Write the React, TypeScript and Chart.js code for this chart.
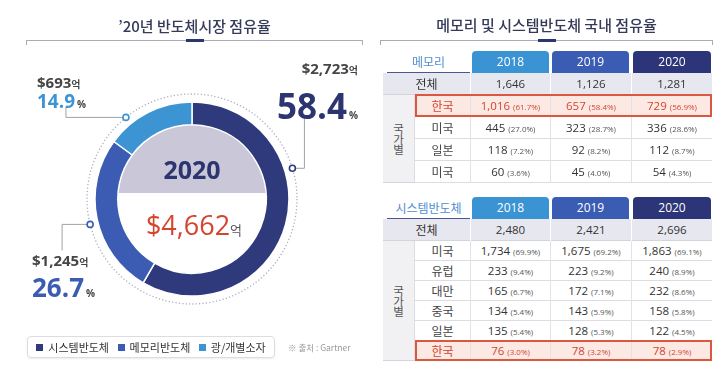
import React, { useEffect, useRef } from "react";
import { Chart, registerables } from "chart.js";

Chart.register(...registerables);

// ---------- data ----------
const segments = ["시스템반도체", "메모리반도체", "광/개별소자"];
const shares = [58.4, 26.7, 14.9];
const amounts = [2723, 1245, 693];
const totalAmount = 4662;
const chartYear = "2020";

const years = ["2018", "2019", "2020"];

const memTotals = [1646, 1126, 1281];
const memCountries = ["한국", "미국", "일본", "미국"];
const memValues = [
  [1016, 657, 729],
  [445, 323, 336],
  [118, 92, 112],
  [60, 45, 54],
];
const memPcts = [
  [61.7, 58.4, 56.9],
  [27.0, 28.7, 28.6],
  [7.2, 8.2, 8.7],
  [3.6, 4.0, 4.3],
];

const sysTotals = [2480, 2421, 2696];
const sysCountries = ["미국", "유럽", "대만", "중국", "일본", "한국"];
const sysValues = [
  [1734, 1675, 1863],
  [233, 223, 240],
  [165, 172, 232],
  [134, 143, 158],
  [135, 128, 122],
  [76, 78, 78],
];
const sysPcts = [
  [69.9, 69.2, 69.1],
  [9.4, 9.2, 8.9],
  [6.7, 7.1, 8.6],
  [5.4, 5.9, 5.8],
  [5.4, 5.3, 4.5],
  [3.0, 3.2, 2.9],
];

// ---------- styles ----------
const segColors = ["#2e3a7b", "#3b5cb2", "#3c94d3"];
const yearColors = ["#3a94d4", "#3a5cb2", "#2c3577"];
const NAVY = "#2d3570";
const RED = "#d4452f";
const KR = '"Noto Sans CJK KR", "Noto Sans", sans-serif';
const NUM = '"Open Sans", "Noto Sans", sans-serif';

const calloutStyle = [
  { angle: 73, path: [[12, 0], [12, -50]] },
  { angle: 256, path: [[-28, 0], [-28, 26]] },
  { angle: 321, path: [[-60, 0], [-60, -10]] },
];

const fmt = (v: number) => v.toLocaleString("en-US");

const decorPlugin = {
  id: "decor",
  beforeDatasetsDraw(chart: any) {
    const a = chart.getDatasetMeta(0).data[0];
    if (!a) return;
    const { x, y, innerRadius, outerRadius } = a;
    const ctx = chart.ctx;
    ctx.save();
    ctx.beginPath();
    ctx.setLineDash([1.2, 2.2]);
    ctx.lineWidth = 1.3;
    ctx.strokeStyle = "#a9adbd";
    ctx.arc(x, y, outerRadius + 8, 0, Math.PI * 2);
    ctx.stroke();
    ctx.setLineDash([]);
    ctx.beginPath();
    ctx.arc(x, y, innerRadius, 0, Math.PI * 2);
    ctx.clip();
    ctx.fillStyle = "#c9c7d8";
    ctx.fillRect(x - innerRadius, y - innerRadius, innerRadius * 2, innerRadius - 6);
    ctx.restore();
  },
  afterDatasetsDraw(chart: any) {
    const a = chart.getDatasetMeta(0).data[0];
    if (!a) return;
    const { x, y, outerRadius } = a;
    const ctx = chart.ctx;
    const r = outerRadius + 8;
    ctx.save();
    calloutStyle.forEach((c, i) => {
      const t = (c.angle * Math.PI) / 180;
      const px = x + r * Math.sin(t);
      const py = y - r * Math.cos(t);
      ctx.beginPath();
      ctx.strokeStyle = "#a0a0a8";
      ctx.lineWidth = 1;
      ctx.moveTo(px, py);
      c.path.forEach(([dx, dy]) => ctx.lineTo(px + dx, py + dy));
      ctx.stroke();
      ctx.beginPath();
      ctx.arc(px, py, 3, 0, Math.PI * 2);
      ctx.fillStyle = "#fff";
      ctx.fill();
      ctx.lineWidth = 1.6;
      ctx.strokeStyle = segColors[i];
      ctx.stroke();
    });
    ctx.restore();
  },
};

const abs = (s: React.CSSProperties): React.CSSProperties => ({
  position: "absolute",
  whiteSpace: "nowrap",
  ...s,
});

function TitleRule({ left, width }: { left: number; width: number }) {
  return (
    <>
      <div style={abs({ left, top: 40, width, height: 5, borderTop: "1px solid #a9abb6", borderLeft: "1px solid #a9abb6", borderRight: "1px solid #a9abb6", boxSizing: "border-box" })} />
      <div style={abs({ left: left + width / 2 - 9, top: 39, width: 18, height: 3, background: NAVY })} />
    </>
  );
}

function DataTable(props: {
  top: number;
  title: string;
  totals: number[];
  countries: string[];
  values: number[][];
  pcts: number[][];
  rowH: number;
}) {
  const { top, title, totals, countries, values, pcts, rowH } = props;
  const L = 383, C1 = 415, C2 = 470, R = 712;
  const colX = [470, 550, 631];
  const colW = [80, 81, 81];
  const hdrX = [472, 552, 633];
  const hdrW = [77, 77, 78];
  const headH = 22;
  const totH = 22;
  const rowsTop = top + headH + totH;
  const bodyH = rowH * countries.length;
  const els: React.ReactNode[] = [];

  els.push(
    <div key="ttl" style={abs({ left: L + 4, top, width: C2 - L - 4, height: headH, lineHeight: headH + "px", textAlign: "center", color: "#4f8ed0", fontSize: 12, fontFamily: KR, borderBottom: "1.5px solid #4d5690", boxSizing: "border-box" })}>{title}</div>
  );
  years.forEach((yr, j) => {
    els.push(
      <div key={"h" + j} style={abs({ left: hdrX[j], top, width: hdrW[j], height: headH, lineHeight: headH + "px", textAlign: "center", color: "#fff", background: yearColors[j], fontSize: 12, fontFamily: NUM, borderRadius: "4px 4px 0 0" })}>{yr}</div>
    );
  });
  els.push(
    <div key="totbg" style={abs({ left: L, top: top + headH, width: R - L, height: totH, background: "#e7e7f0", borderBottom: "1px solid #d4d4dc", boxSizing: "border-box" })} />
  );
  els.push(
    <div key="totl" style={abs({ left: L, top: top + headH, width: C2 - L, height: totH, lineHeight: totH + "px", textAlign: "center", fontSize: 12, color: "#333", fontFamily: KR })}>전체</div>
  );
  totals.forEach((v, j) => {
    els.push(
      <div key={"t" + j} style={abs({ left: colX[j], top: top + headH, width: colW[j], height: totH, lineHeight: totH + "px", textAlign: "center", fontSize: 11.5, color: "#333", fontFamily: NUM, borderLeft: "1px solid #fff", boxSizing: "border-box" })}>{fmt(v)}</div>
    );
  });
  els.push(
    <div key="grp" style={abs({ left: L, top: rowsTop, width: C1 - L, height: bodyH, background: "#f1f1f4", borderRight: "1px solid #dcdce2", borderBottom: "1px solid #d4d4dc", boxSizing: "border-box", display: "flex", alignItems: "center", justifyContent: "center" })}>
      <span style={{ writingMode: "vertical-rl", textOrientation: "upright", fontSize: 11.5, lineHeight: "12px", color: "#555", fontFamily: KR, letterSpacing: -1 }}>국가별</span>
    </div>
  );
  countries.forEach((c, i) => {
    const y = rowsTop + i * rowH;
    const hi = c === "한국";
    const col = hi ? RED : "#333";
    els.push(
      <div key={"rb" + i} style={abs({ left: C1, top: y, width: R - C1, height: rowH, background: hi ? "#fce9e3" : "#fff", borderBottom: "1px solid #dcdce2", boxSizing: "border-box" })} />
    );
    els.push(
      <div key={"rl" + i} style={abs({ left: C1, top: y, width: C2 - C1, height: rowH, lineHeight: rowH + "px", textAlign: "center", fontSize: 12, color: hi ? RED : "#444", fontFamily: KR })}>{c}</div>
    );
    values[i].forEach((v, j) => {
      els.push(
        <div key={"c" + i + "_" + j} style={abs({ left: colX[j], top: y, width: colW[j], height: rowH, lineHeight: rowH + "px", textAlign: "center", fontSize: 11.5, color: col, fontFamily: NUM, borderLeft: "1px solid #e2e2e8", boxSizing: "border-box" })}>
          {fmt(v)} <span style={{ fontSize: 8, color: hi ? RED : "#555" }}>({pcts[i][j].toFixed(1)}%)</span>
        </div>
      );
    });
    if (hi) {
      els.push(
        <div key={"hi" + i} style={abs({ left: C1, top: y - 1, width: R - C1, height: rowH + 1, border: "2px solid #d9583f", boxSizing: "border-box" })} />
      );
    }
  });
  return <>{els}</>;
}

export default function App() {
  const ref = useRef<HTMLCanvasElement>(null);
  useEffect(() => {
    if (!ref.current) return;
    const chart = new Chart(ref.current, {
      type: "doughnut",
      data: {
        labels: segments,
        datasets: [
          {
            data: shares,
            backgroundColor: segColors,
            borderColor: "#ffffff",
            borderWidth: 1.5,
          },
        ],
      },
      options: {
        responsive: false,
        animation: false,
        radius: 97,
        cutout: "76.5%",
        layout: { padding: { left: 14, top: 29, right: 0, bottom: 0 } },
        plugins: { legend: { display: false }, tooltip: { enabled: false } },
      } as any,
      plugins: [decorPlugin],
    });
    return () => chart.destroy();
  }, []);

  const labelPos = [
    { align: "right", x: 358, amtY: 68, pctY: 105, pctSize: 35, numColor: NAVY },
    { align: "left", x: 32, amtY: 260, pctY: 287, pctSize: 26, numColor: segColors[1] },
    { align: "left", x: 37, amtY: 82, pctY: 101, pctSize: 19, numColor: segColors[2] },
  ];

  return (
    <div style={abs({ left: 0, top: 0, width: 719, height: 369, overflow: "hidden", background: "#fff", fontFamily: KR })}>
      <canvas ref={ref} width={370} height={369} style={abs({ left: 0, top: 0, width: 370, height: 369 })} />

      <div style={abs({ left: 26, top: 16, width: 337, textAlign: "center", fontSize: 15, lineHeight: "20px", fontWeight: 500, color: "#353a58", fontFamily: KR })}>’20년 반도체시장 점유율</div>
      <TitleRule left={26} width={337} />
      <div style={abs({ left: 380, top: 15, width: 333, textAlign: "center", fontSize: 15, lineHeight: "20px", fontWeight: 500, color: "#353a58", fontFamily: KR })}>메모리 및 시스템반도체 국내 점유율</div>
      <TitleRule left={380} width={333} />

      <div style={abs({ left: 142, top: 154, width: 100, textAlign: "center", fontSize: 25, lineHeight: "30px", fontWeight: 700, color: NAVY, fontFamily: NUM })}>{chartYear}</div>
      <div style={abs({ left: 132, top: 208, width: 124, textAlign: "center", fontSize: 27, lineHeight: "34px", color: RED, fontFamily: NUM })}>
        ${fmt(totalAmount)}<span style={{ fontSize: 13, color: "#555", fontFamily: KR }}>억</span>
      </div>

      {labelPos.map((p, i) => {
        const side: React.CSSProperties = p.align === "right" ? { right: 719 - p.x, textAlign: "right" } : { left: p.x };
        return (
          <React.Fragment key={i}>
            <div style={abs({ ...side, top: p.amtY - 10, lineHeight: "20px", fontSize: 15, fontWeight: 700, color: "#454545", fontFamily: NUM })}>
              ${fmt(amounts[i])}<span style={{ fontSize: 10, fontFamily: KR, fontWeight: 700 }}>억</span>
            </div>
            <div style={abs({ ...side, top: p.pctY - p.pctSize * 0.7, lineHeight: p.pctSize * 1.4 + "px", fontSize: p.pctSize, fontWeight: 700, color: p.numColor, fontFamily: NUM })}>
              {shares[i].toFixed(1)}<span style={{ fontSize: 10, color: "#444", marginLeft: 2 }}>%</span>
            </div>
          </React.Fragment>
        );
      })}

      <div style={abs({ left: 27, top: 336, width: 248, height: 22, border: "1px solid #dcdce2", borderRadius: 4, boxSizing: "border-box", boxShadow: "0 1px 2px rgba(0,0,0,0.08)", display: "flex", alignItems: "center", justifyContent: "space-around", padding: "0 4px" })}>
        {segments.map((s, i) => (
          <span key={s} style={{ display: "flex", alignItems: "center", fontSize: 11, color: "#333", fontFamily: KR }}>
            <span style={{ display: "inline-block", width: 7, height: 7, background: segColors[i], marginRight: 5 }} />
            {s}
          </span>
        ))}
      </div>
      <div style={abs({ left: 288, top: 340, fontSize: 8.5, lineHeight: "14px", color: "#999", fontFamily: KR })}>※ 출처 : Gartner</div>

      <DataTable top={51} title="메모리" totals={memTotals} countries={memCountries} values={memValues} pcts={memPcts} rowH={22} />
      <DataTable top={197} title="시스템반도체" totals={sysTotals} countries={sysCountries} values={sysValues} pcts={sysPcts} rowH={20} />
    </div>
  );
}
